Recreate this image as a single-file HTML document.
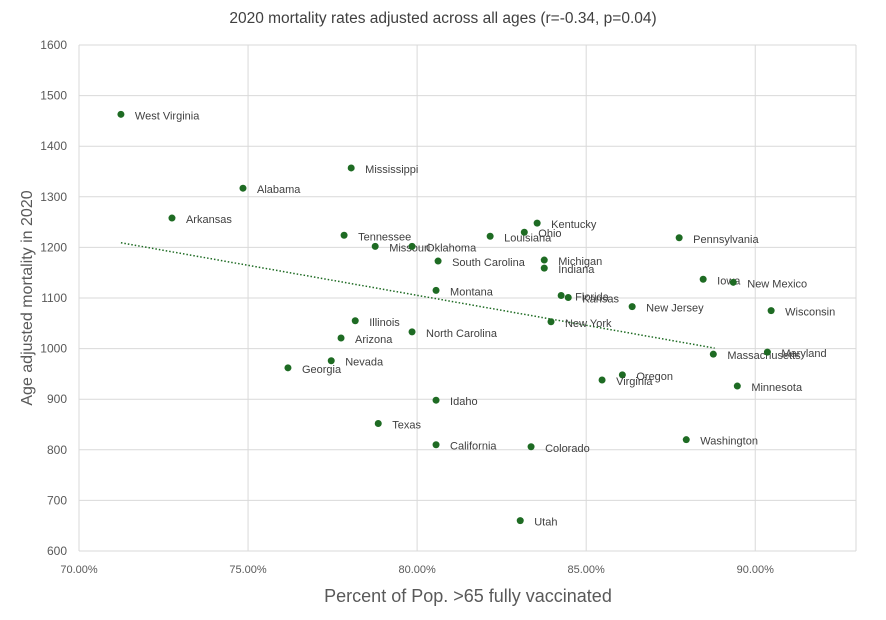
<!DOCTYPE html>
<html><head><meta charset="utf-8"><style>
body{margin:0;background:#fff;font-family:"Liberation Sans",sans-serif}
svg text{font-family:"Liberation Sans",sans-serif}
</style></head><body>
<svg id="chart" width="886" height="615">
<text x="443" y="23" text-anchor="middle" font-size="15.5" fill="#404040">2020 mortality rates adjusted across all ages (r=-0.34, p=0.04)</text>
<text transform="translate(32,298) rotate(-90)" text-anchor="middle" font-size="16" fill="#595959">Age adjusted mortality in 2020</text>
<text x="468" y="602" text-anchor="middle" font-size="18" fill="#595959">Percent of Pop. &gt;65 fully vaccinated</text>
<g id="grid"></g><g id="trend"></g><g id="pts"></g>
</svg>
<script>
const states=["West Virginia","Alabama","Arkansas","Mississippi","Tennessee","Missouri","Oklahoma","South Carolina","Louisiana","Kentucky","Ohio","Michigan","Indiana","Pennsylvania","Iowa","New Mexico","Wisconsin","Montana","Florida","Kansas","New Jersey","New York","Illinois","North Carolina","Arizona","Massachusetts","Maryland","Nevada","Georgia","Oregon","Virginia","Minnesota","Idaho","Texas","Washington","California","Colorado","Utah"];
const vaxPct=[71.24,74.85,72.75,78.05,77.84,78.76,79.85,80.62,82.16,83.55,83.17,83.76,83.76,87.75,88.46,89.35,90.47,80.56,84.26,84.47,86.36,83.96,78.17,79.85,77.75,88.76,90.36,77.46,76.18,86.07,85.47,89.47,80.56,78.85,87.96,80.56,83.37,83.05];
const mortality=[1463,1317,1258,1357,1224,1202,1202,1173,1222,1248,1230,1175,1159,1219,1137,1131,1075,1115,1105,1101,1083,1053,1055,1033,1021,989,993,976,962,948,938,926,898,852,820,810,806,660];
const xTicks=[70,75,80,85,90];
const yTicks=[600,700,800,900,1000,1100,1200,1300,1400,1500,1600];
const X0=79,X1=856,Y0=551,Y1=45,xmin=70,xmax=92.98,ymin=600,ymax=1600;
const sx=v=>X0+(v-xmin)/(xmax-xmin)*(X1-X0);
const sy=v=>Y0-(v-ymin)/(ymax-ymin)*(Y0-Y1);
const NS="http://www.w3.org/2000/svg";
function mk(t,a,p){const e=document.createElementNS(NS,t);for(const k in a)e.setAttribute(k,a[k]);p.appendChild(e);return e;}
const g=document.getElementById('grid');
yTicks.forEach(v=>{
 const l=mk('line',{x1:X0,x2:X1,y1:sy(v),y2:sy(v),stroke:'#d9d9d9','stroke-width':1},g);
 
 
 const t=mk('text',{x:X0-12,y:sy(v)+4,'text-anchor':'end','font-size':12,fill:'#595959'},g);t.textContent=v;
 
 
});
xTicks.forEach(v=>{
 const l=mk('line',{x1:sx(v),x2:sx(v),y1:Y1,y2:Y0,stroke:'#d9d9d9','stroke-width':1},g);
 
 
 const t=mk('text',{x:sx(v),y:Y0+22,'text-anchor':'middle','font-size':11,fill:'#595959'},g);t.textContent=v.toFixed(2)+'%';
 
 
});
mk('line',{x1:X1,x2:X1,y1:Y1,y2:Y0,stroke:'#d9d9d9'},g);
// regression
const n=vaxPct.length;let mx=0,my=0;vaxPct.forEach((v,i)=>{mx+=v;my+=mortality[i]});mx/=n;my/=n;
let sxy=0,sxx=0;vaxPct.forEach((v,i)=>{sxy+=(v-mx)*(mortality[i]-my);sxx+=(v-mx)*(v-mx)});
const b=sxy/sxx,a=my-b*mx;const xa=Math.min(...vaxPct),xb=88.8;
const tl=mk('line',{x1:sx(xa),y1:sy(a+b*xa),x2:sx(xb),y2:sy(a+b*xb),stroke:'#1e6b23','stroke-width':1.5,'stroke-dasharray':'1.5 2'},document.getElementById('trend'));


const p=document.getElementById('pts');
states.forEach((s,i)=>{
 const c=mk('circle',{cx:sx(vaxPct[i]),cy:sy(mortality[i]),r:3.5,fill:'#1e6b23'},p);
 
 
 const t=mk('text',{x:sx(vaxPct[i])+14,y:sy(mortality[i])+5,'font-size':11,fill:'#404040'},p);t.textContent=s;
 
 
});
</script>
</body></html>
